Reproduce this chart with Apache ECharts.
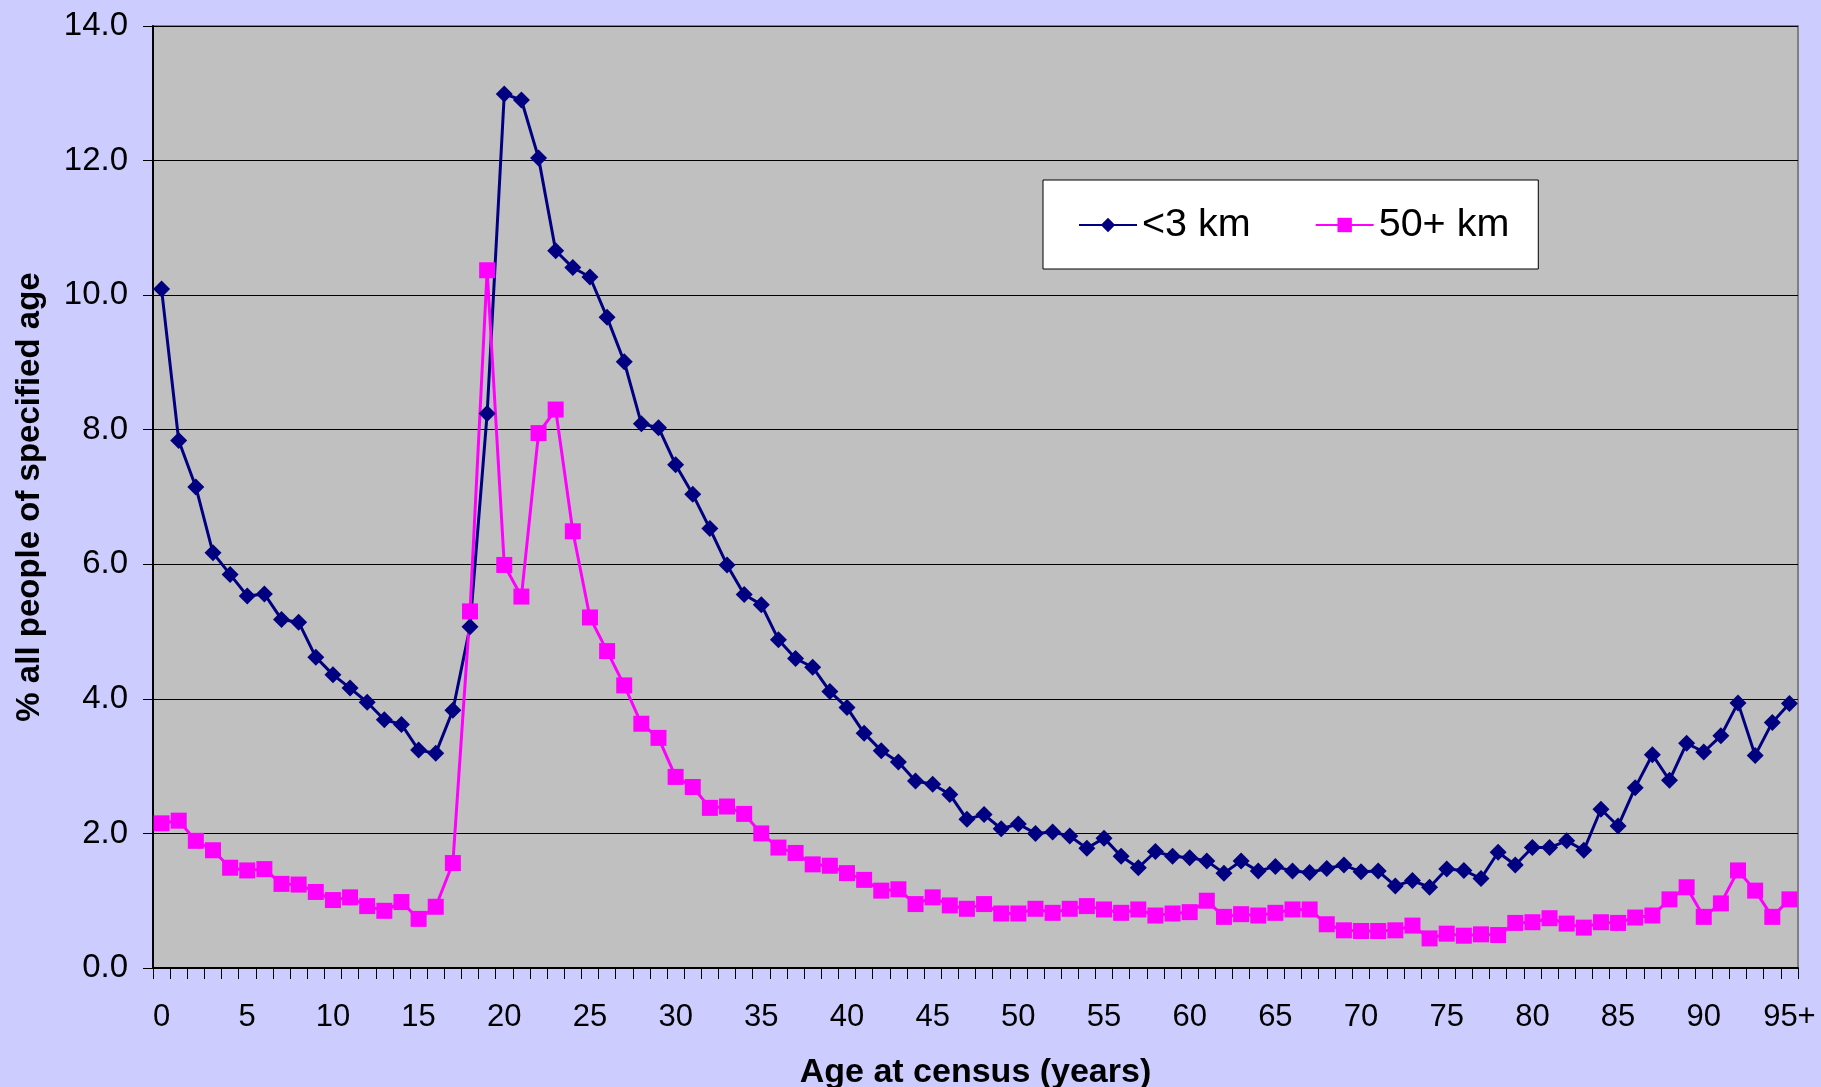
<!DOCTYPE html>
<html>
<head>
<meta charset="utf-8">
<script src="https://cdn.jsdelivr.net/npm/echarts@6/dist/echarts.min.js"></script>
<style>
  html, body { margin: 0; padding: 0; background: #CCCCFF; }
  #chart { width: 1821px; height: 1087px; }
</style>
</head>
<body>
<div id="chart"></div>
<script>
// Age at census, single years 0..94 plus an open-ended 95+ group
const ages = ['0','1','2','3','4','5','6','7','8','9',
  '10','11','12','13','14','15','16','17','18','19',
  '20','21','22','23','24','25','26','27','28','29',
  '30','31','32','33','34','35','36','37','38','39',
  '40','41','42','43','44','45','46','47','48','49',
  '50','51','52','53','54','55','56','57','58','59',
  '60','61','62','63','64','65','66','67','68','69',
  '70','71','72','73','74','75','76','77','78','79',
  '80','81','82','83','84','85','86','87','88','89',
  '90','91','92','93','94','95+'];

// % of all people of each age who moved less than 3 km
const under3km = [
  10.09, 7.84, 7.15, 6.17, 5.85, 5.53, 5.56, 5.18, 5.14, 4.62,
  4.36, 4.16, 3.95, 3.69, 3.62, 3.24, 3.19, 3.83, 5.07, 8.24,
  12.99, 12.90, 12.04, 10.66, 10.41, 10.27, 9.67, 9.01, 8.09, 8.03,
  7.48, 7.04, 6.53, 5.99, 5.55, 5.40, 4.88, 4.60, 4.47, 4.11,
  3.87, 3.49, 3.23, 3.06, 2.78, 2.73, 2.58, 2.21, 2.28, 2.07,
  2.14, 2.00, 2.02, 1.96, 1.78, 1.93, 1.66, 1.49, 1.73, 1.66,
  1.64, 1.59, 1.41, 1.59, 1.44, 1.51, 1.44, 1.42, 1.48, 1.53,
  1.43, 1.44, 1.22, 1.30, 1.20, 1.47, 1.45, 1.33, 1.72, 1.53,
  1.79, 1.79, 1.89, 1.75, 2.36, 2.11, 2.68, 3.17, 2.79, 3.34,
  3.21, 3.45, 3.94, 3.16, 3.65, 3.93];

// % of all people of each age who moved 50 km or more
const over50km = [
  2.15, 2.19, 1.89, 1.75, 1.49, 1.45, 1.47, 1.25, 1.24, 1.13,
  1.01, 1.05, 0.92, 0.85, 0.98, 0.73, 0.91, 1.56, 5.30, 10.37,
  5.99, 5.52, 7.95, 8.30, 6.49, 5.21, 4.71, 4.20, 3.63, 3.42,
  2.84, 2.69, 2.38, 2.40, 2.29, 2.00, 1.79, 1.71, 1.54, 1.52,
  1.41, 1.31, 1.15, 1.17, 0.95, 1.05, 0.93, 0.88, 0.95, 0.81,
  0.81, 0.88, 0.82, 0.88, 0.92, 0.87, 0.82, 0.87, 0.78, 0.81,
  0.83, 1.00, 0.76, 0.80, 0.78, 0.82, 0.87, 0.87, 0.65, 0.56,
  0.55, 0.55, 0.56, 0.63, 0.44, 0.51, 0.48, 0.50, 0.49, 0.67,
  0.68, 0.74, 0.66, 0.60, 0.68, 0.67, 0.75, 0.78, 1.02, 1.20,
  0.76, 0.96, 1.45, 1.15, 0.76, 1.02];

const seriesNames = ['<3 km', '50+ km'];
const yTicks = { min: 0, max: 14, interval: 2 };

const FONT = "'Liberation Sans', Arial, sans-serif";

const chart = echarts.init(document.getElementById('chart'), null, { renderer: 'canvas' });

chart.setOption({
  animation: false,
  backgroundColor: '#CCCCFF',
  textStyle: { fontFamily: FONT, color: '#000' },
  grid: {
    left: 153, right: 23, top: 26, bottom: 119,
    outerBoundsMode: 'none',
    containLabel: false,
    show: true,
    backgroundColor: '#C0C0C0',
    borderColor: '#808080',
    borderWidth: 2
  },
  legend: {
    left: 1043, top: 180,
    orient: 'horizontal',
    backgroundColor: '#FFFFFF',
    borderColor: '#000000',
    borderWidth: 1,
    borderRadius: 0,
    padding: [25, 29, 24, 35],
    itemWidth: 58,
    itemHeight: 18,
    itemGap: 64,
    textStyle: { fontFamily: FONT, fontSize: 39.5, color: '#000', padding: [0, 0, 0, 0] },
    data: seriesNames
  },
  xAxis: {
    type: 'category',
    data: ages,
    boundaryGap: true,
    name: 'Age at census (years)',
    nameLocation: 'middle',
    nameGap: 88,
    nameTextStyle: { fontFamily: FONT, fontSize: 34, fontWeight: 'bold', color: '#000' },
    axisLine: { show: true, lineStyle: { color: '#000', width: 2 } },
    axisTick: { show: true, interval: 0, inside: false, length: 11, lineStyle: { color: '#000', width: 1 } },
    axisLabel: {
      interval: 4,
      margin: 34,
      fontFamily: FONT, fontSize: 31, color: '#000'
    },
    splitLine: { show: false }
  },
  yAxis: {
    type: 'value',
    min: yTicks.min, max: yTicks.max, interval: yTicks.interval,
    name: '% all people of specified age',
    nameLocation: 'middle',
    nameGap: 107,
    nameRotate: 90,
    nameTextStyle: { fontFamily: FONT, fontSize: 33, fontWeight: 'bold', color: '#000' },
    axisLine: { show: true, lineStyle: { color: '#000', width: 2 } },
    axisTick: { show: true, inside: false, length: 10, lineStyle: { color: '#000', width: 1 } },
    axisLabel: {
      margin: 25,
      fontFamily: FONT, fontSize: 33, color: '#000',
      formatter: v => v.toFixed(1)
    },
    splitLine: { show: true, lineStyle: { color: '#000', width: 1.2 } }
  },
  series: [
    {
      name: seriesNames[0],
      type: 'line',
      data: under3km,
      symbol: 'diamond',
      symbolSize: 17,
      showAllSymbol: true,
      lineStyle: { color: '#000080', width: 3 },
      itemStyle: { color: '#000080', borderWidth: 0 }
    },
    {
      name: seriesNames[1],
      type: 'line',
      data: over50km,
      symbol: 'rect',
      symbolSize: 16,
      showAllSymbol: true,
      lineStyle: { color: '#FF00FF', width: 3 },
      itemStyle: { color: '#FF00FF', borderWidth: 0 }
    }
  ]
});
</script>
</body>
</html>
